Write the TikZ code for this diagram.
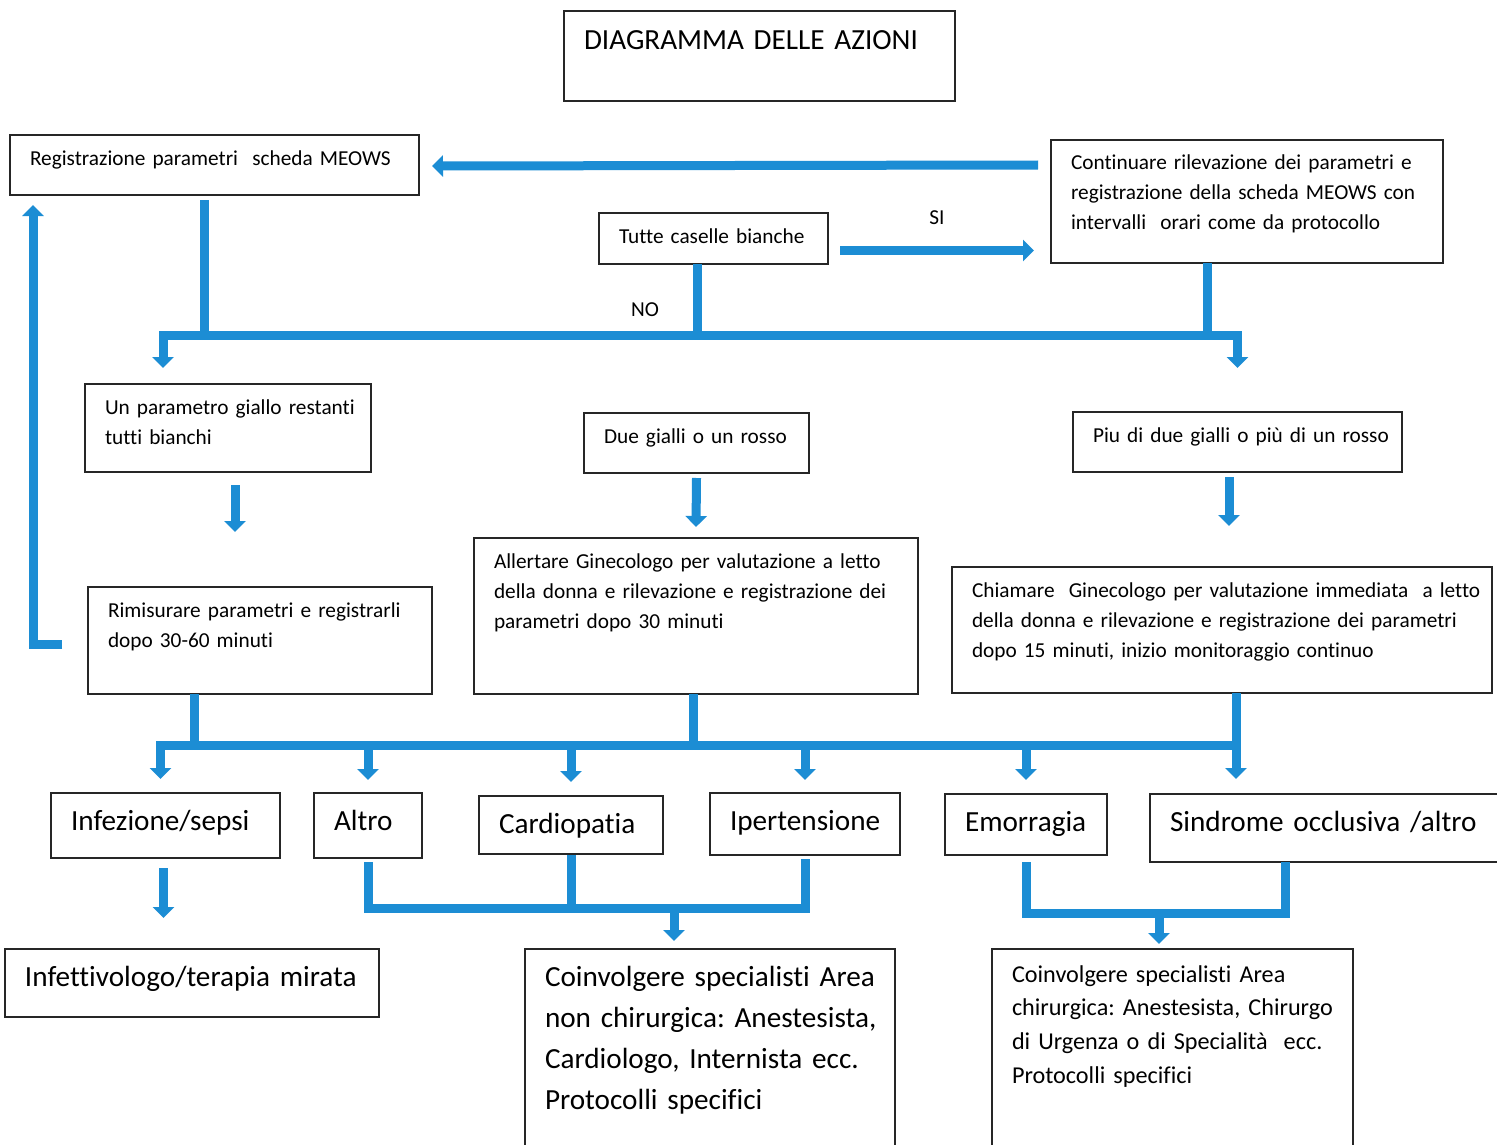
\documentclass[tikz,border=0pt]{standalone}
\usepackage{fontspec}
\setmainfont{Carlito}[Ligatures=NoCommon]
\usetikzlibrary{arrows.meta,positioning}

\definecolor{flowblue}{RGB}{28,141,212}
\newcommand\fsml{\fontsize{21.3}{30}\selectfont}
\newcommand\fmed{\fontsize{24.2}{33.7}\selectfont}
\newcommand\fbig{\fontsize{29.2}{41}\selectfont}
\frenchspacing

\tikzset{
  box/.style={draw=black!85, line width=1.4pt, anchor=north west, inner sep=0pt, outer sep=0pt,
    align=left, execute at begin node={\leftskip=20pt}},
  link/.style={draw=flowblue, line width=9pt},
  flow/.style={link, -{Triangle[width=21pt,length=11pt]}},
  flowr/.style={link, {Triangle[width=21pt,length=11pt]}-},
  flows/.style={link, {Triangle[width=21pt,length=11pt]}-{Triangle[width=21pt,length=11pt]}},
  lbl/.style={font=\fsml, inner sep=0pt},
}

\begin{document}
\begin{tikzpicture}[x=1pt,y=-1pt]
		\useasboundingbox (0,0) rectangle (1497,1145);
		\fill[white] (0,0) rectangle (1497,1145);
		% title and first row
		\node[box, font=\fbig, text width=391pt, text height=38.5pt, text depth=51.5pt] (title) at (564,11) {DIAGRAMMA DELLE AZIONI};
		\node[box, font=\fsml, text width=409pt, text height=30pt, text depth=30pt] (reg) at (10,135) {Registrazione parametri\ \ scheda MEOWS};
		\node[box, font=\fsml, text width=392pt, text height=30pt, text depth=93pt] (cont) at (1051,140) {Continuare rilevazione dei parametri e\\registrazione della scheda MEOWS con\\intervalli\ \ orari come da protocollo};
		\node[box, font=\fsml, text width=229pt, text height=30pt, text depth=21pt] (tutte) at (599,213) {Tutte caselle bianche};
		% levels
		\node[box, font=\fsml, text width=286pt, text height=30pt, text depth=58pt] (un) at (85,384) {Un parametro giallo restanti\\tutti bianchi};
		\node[box, font=\fsml, text width=225pt, text height=30pt, text depth=30pt] (due) at (584,413) {Due gialli o un rosso};
		\node[box, font=\fsml, text width=329pt, text height=30pt, text depth=30pt] (piu) at (1073,412) {Piu di due gialli o più di un rosso};
		\node[box, font=\fsml, text width=344pt, text height=30pt, text depth=77pt] (rimis) at (88,587) {Rimisurare parametri e registrarli\\dopo 30-60 minuti};
		\node[box, font=\fsml, text width=444pt, text height=30pt, text depth=126pt] (allert) at (474,538) {Allertare Ginecologo per valutazione a letto\\della donna e rilevazione e registrazione dei\\parametri dopo 30 minuti};
		\node[box, font=\fsml, text width=540pt, text height=30pt, text depth=96pt] (chiam) at (952,567) {Chiamare\ \ Ginecologo per valutazione immediata\ \ a letto\\della donna e rilevazione e registrazione dei parametri\\dopo 15 minuti, inizio monitoraggio continuo};
		% causes
		\node[box, font=\fbig, text width=229pt, text height=37.5pt, text depth=27.5pt] (infez) at (51,793) {Infezione/sepsi};
		\node[box, font=\fbig, text width=108pt, text height=37.5pt, text depth=27.5pt] (altro) at (314,793) {Altro};
		\node[box, font=\fbig, text width=184pt, text height=37.5pt, text depth=20.5pt] (cardio) at (479,796) {Cardiopatia};
		\node[box, font=\fbig, text width=190pt, text height=37.5pt, text depth=24.5pt] (iper) at (710,793) {Ipertensione};
		\node[box, font=\fbig, text width=162pt, text height=37.5pt, text depth=23.5pt] (emorr) at (945,794) {Emorragia};
		\node[box, font=\fbig, text width=360pt, text height=37.5pt, text depth=30.5pt] (sindr) at (1150,794) {Sindrome occlusiva /altro};
		% specialists
		\node[box, font=\fbig, text width=374pt, text height=37.5pt, text depth=30.5pt] (infett) at (5,949) {Infettivologo/terapia mirata};
		\node[box, font=\fbig, text width=370pt, text height=37.5pt, text depth=182.5pt] (coinvnc) at (525,949) {Coinvolgere specialisti Area\\non chirurgica: Anestesista,\\Cardiologo, Internista ecc.\\Protocolli specifici};
		\node[box, font=\fmed, text width=361pt, text height=33pt, text depth=187pt] (coinvc) at (992,949) {Coinvolgere specialisti Area\\chirurgica: Anestesista, Chirurgo\\di Urgenza o di Specialità\ \ ecc.\\Protocolli specifici};

		% upper arrows
		\draw[flow] ([shift={(-13,25)}]cont.north west) -- ([shift={(13,31)}]reg.north east);
		\draw[flow] ([shift={(-26,4)}]rimis.west) -| ([shift={(23,10)}]reg.south west);
		\draw[flow] ([shift={(12,12)}]tutte.east) -- ([shift={(-17,110.5)}]cont.north west) node[midway, above=21pt, lbl] {SI};
		\coordinate (bus1) at (0,335);
		\draw[link] ([shift={(-10,5)}]reg.south) -- ([xshift=-10pt]reg.south |- bus1);
		\draw[link] ([xshift=-16pt]tutte.south) -- ([xshift=-16pt]tutte.south |- bus1) node[pos=0.65, left=34pt, lbl] {NO};
		\draw[link] ([xshift=-40pt]cont.south) -- ([xshift=-40pt]cont.south |- bus1);
		\draw[flows] ([shift={(78,-16)}]un.north west) |- (piu.north |- bus1) -- ([yshift=44pt]piu.north);
		\draw[flow] ([shift={(150,13)}]un.south west) -- ([shift={(147,-55)}]rimis.north west);
		\draw[flow] ([yshift=-5pt]due.south) -- ([yshift=11pt]allert.north);
		\draw[flow] ([shift={(156,5)}]piu.south west) -- ([shift={(277,-41)}]chiam.north west);

		% lower arrows
		\coordinate (bus2) at (0,745);
		\draw[link] ([xshift=106pt]rimis.south west) -- ([xshift=106pt]rimis.south west |- bus2);
		\draw[link] ([xshift=-3pt]allert.south) -- ([xshift=-3pt]allert.south |- bus2);
		\draw[flow] ([xshift=14pt]chiam.south) -- ([shift={(86,-15)}]sindr.north west);
		\draw[flowr] ([shift={(-5,-14)}]infez.north) |- ([xshift=14pt]chiam.south |- bus2);
		\draw[flow] (altro.north |- bus2) -- ([yshift=13pt]altro.north);
		\draw[flow] (cardio.north |- bus2) -- ([yshift=14pt]cardio.north);
		\draw[flow] (iper.north |- bus2) -- ([yshift=13pt]iper.north);
		\draw[flow] (emorr.north |- bus2) -- ([yshift=14pt]emorr.north);

		% to the specialists
		\draw[flow] ([shift={(-2,10)}]infez.south) -- ([shift={(158.5,-31)}]infett.north west);
		\coordinate (bus3) at (0,908);
		\draw[link] ([yshift=-4pt]altro.south) -- (altro.south |- bus3) -| ([yshift=-4pt]iper.south);
		\draw[link] ([yshift=-1pt]cardio.south) -- (cardio.south |- bus3);
		\draw[flow] ([xshift=149pt]coinvnc.north west |- bus3) -- ([shift={(149,-8)}]coinvnc.north west);
		\coordinate (bus4) at (0,913);
		\draw[link] ([yshift=-7pt]emorr.south) -- (emorr.south |- bus4) -| ([xshift=135pt]sindr.south west);
		\draw[flow] ([xshift=167pt]coinvc.north west |- bus4) -- ([shift={(167,-5)}]coinvc.north west);
	\end{tikzpicture}
\end{document}
